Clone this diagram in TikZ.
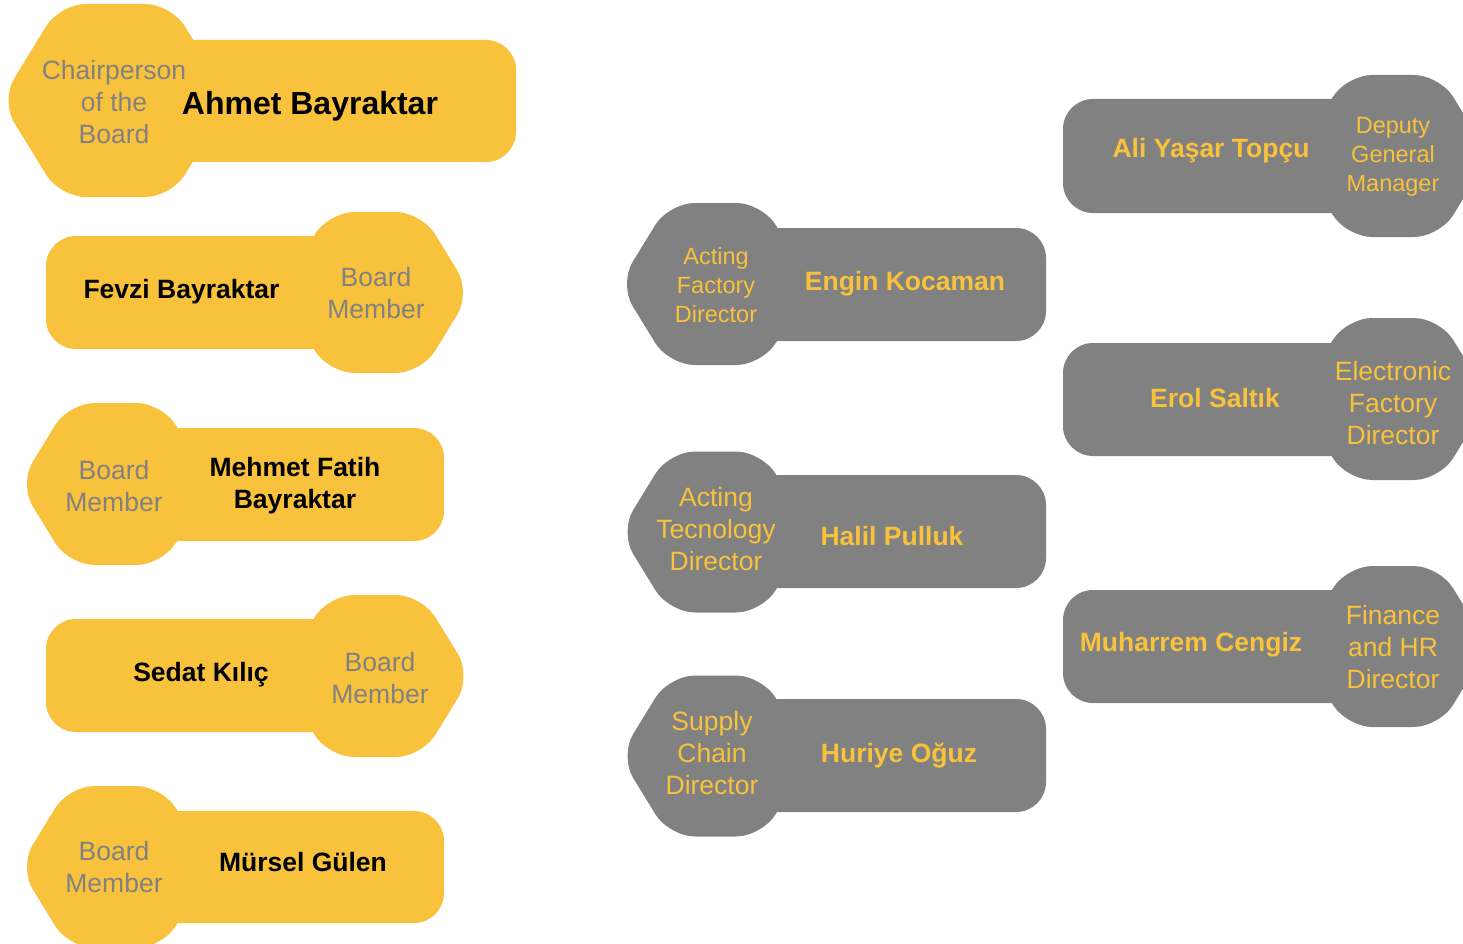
\documentclass[tikz,border=0pt]{standalone}
\usepackage{fontspec}
\setmainfont{Liberation Sans}
\definecolor{hexyellow}{HTML}{F9C23C}
\definecolor{hexgray}{HTML}{808180}
\newcommand\hexblob[4]{% cx, cy, H, colour
  \fill[#4, rounded corners=26pt]
    ({#1-0.595*#3},#2) -- ({#1-0.288675*#3},{#2-#3/2}) --
    ({#1+0.288675*#3},{#2-#3/2}) -- ({#1+0.595*#3},#2) --
    ({#1+0.288675*#3},{#2+#3/2}) -- ({#1-0.288675*#3},{#2+#3/2}) -- cycle;}
\tikzset{
  rolefont/.style={font=\fontsize{26.5}{32}\selectfont, align=center, inner sep=0pt},
  rolesmall/.style={font=\fontsize{23.5}{29}\selectfont, align=center, inner sep=0pt},
  namefont/.style={font=\fontsize{26.5}{32}\selectfont\bfseries, align=center, inner sep=0pt},
  onyellow/.style={text=hexgray},
  ongray/.style={text=hexyellow},
  bar/.style={rounded corners=30pt}
}
\begin{document}
\begin{tikzpicture}[x=1pt,y=-1pt]
\useasboundingbox (0,0) rectangle (1463,944);
\clip (0,0) rectangle (1463,944);
% left column (yellow)
\hexblob{115.5}{100.5}{193}{hexyellow}
\fill[hexyellow, bar] (115,40) rectangle (516,162);
\hexblob{375}{292.5}{161}{hexyellow}
\fill[hexyellow, bar] (46,236) rectangle (375,349);
\hexblob{115.5}{484}{162}{hexyellow}
\fill[hexyellow, bar] (115,428) rectangle (444,541);
\hexblob{375}{676}{162}{hexyellow}
\fill[hexyellow, bar] (46,619) rectangle (375,732);
\hexblob{115.5}{867}{162}{hexyellow}
\fill[hexyellow, bar] (115,811) rectangle (444,923);
% middle column (gray)
\hexblob{715.5}{284}{162}{hexgray}
\fill[hexgray, bar] (715,228) rectangle (1046,341);
\hexblob{715.5}{532}{161}{hexgray}
\fill[hexgray, bar] (715,475) rectangle (1046,588);
\hexblob{715.5}{756}{161}{hexgray}
\fill[hexgray, bar] (715,699) rectangle (1046,812);
% right column (gray)
\hexblob{1393}{156}{162}{hexgray}
\fill[hexgray, bar] (1063,99) rectangle (1393,213);
\hexblob{1393}{399}{162}{hexgray}
\fill[hexgray, bar] (1063,343) rectangle (1393,456);
\hexblob{1393}{646.5}{161}{hexgray}
\fill[hexgray, bar] (1063,590) rectangle (1393,703);
% texts left column
\node[rolefont, onyellow] (r1) at (114,102) {Chairperson\\of the\\Board};
\node[namefont, font=\fontsize{32}{38}\selectfont\bfseries] (n1) at (310,106) {Ahmet Bayraktar};
\node[namefont] (n2) at (181.5,292) {Fevzi Bayraktar};
\node[rolefont, onyellow] (r2) at (376,293) {Board\\Member};
\node[rolefont, onyellow] (r3) at (114,486) {Board\\Member};
\node[namefont] (n3) at (295,486) {Mehmet Fatih\\Bayraktar};
\node[namefont] (n4) at (201,675) {Sedat Kılıç};
\node[rolefont, onyellow] (r4) at (380,678) {Board\\Member};
\node[rolefont, onyellow] (r5) at (114,867) {Board\\Member};
\node[namefont] (n5) at (303,862) {Mürsel Gülen};
% texts middle column
\node[rolesmall, ongray] (r6) at (716,285) {Acting\\Factory\\Director};
\node[namefont, ongray] (n6) at (905,284) {Engin Kocaman};
\node[rolefont, ongray] (r7) at (716,529) {Acting\\Tecnology\\Director};
\node[namefont, ongray] (n7) at (892,536) {Halil Pulluk};
\node[rolefont, ongray] (r8) at (712,753) {Supply\\Chain\\Director};
\node[namefont, ongray] (n8) at (899,756) {Huriye Oğuz};
% texts right column
\node[namefont, ongray] (n9) at (1211,151) {Ali Yaşar Topçu};
\node[rolesmall, ongray] (r9) at (1393,157) {Deputy\\General\\Manager};
\node[namefont, ongray] (n10) at (1215,398) {Erol Saltık};
\node[rolefont, ongray] (r10) at (1393,403) {Electronic\\Factory\\Director};
\node[namefont, ongray] (n11) at (1191,645) {Muharrem Cengiz};
\node[rolefont, ongray] (r11) at (1393,647) {Finance\\and HR\\Director};
\end{tikzpicture}
\end{document}
